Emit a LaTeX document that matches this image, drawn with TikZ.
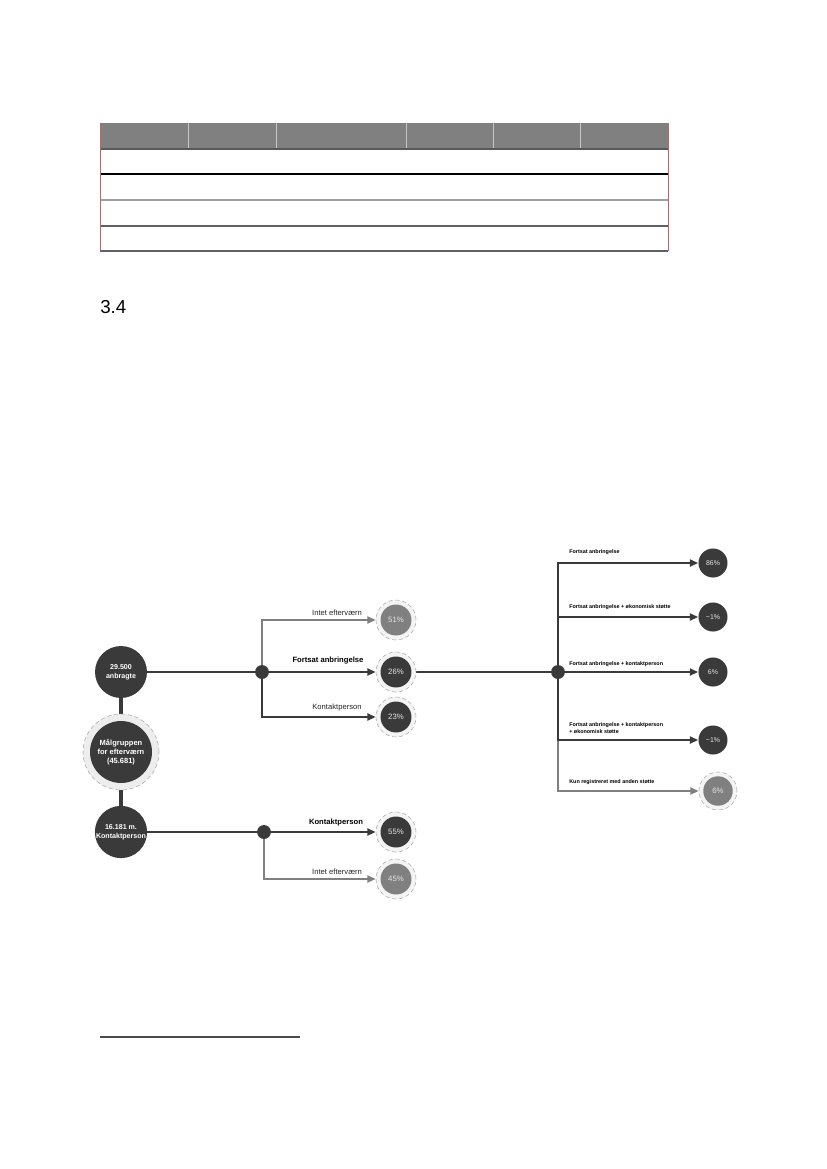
\documentclass[tikz,border=0pt]{standalone}
\usepackage{fontspec}
\setmainfont{Liberation Sans}
\usetikzlibrary{arrows.meta,backgrounds}
\definecolor{dk}{HTML}{3A3A3A}
\definecolor{gr}{HTML}{808080}
\definecolor{ringfill}{HTML}{F4F4F4}
\definecolor{bigring}{HTML}{EDEDED}
\definecolor{ringline}{HTML}{ABABAB}
\definecolor{brd}{HTML}{A07272}
\definecolor{pcttext}{HTML}{E6E6E6}
\begin{document}
\begin{tikzpicture}[x=0.7198pt,y=-0.7198pt,
  big/.style={circle, fill=dk, minimum size=37.4pt, inner sep=0pt, text=white,
    font=\fontsize{5.1}{6.6}\selectfont\bfseries, align=center},
  ringnode/.style={circle, draw=ringline, densely dashed, line width=0.4pt, fill=ringfill,
    minimum size=28.8pt, inner sep=0pt},
  pct/.style={circle, minimum size=22.3pt, inner sep=0pt, text=pcttext,
    font=\fontsize{5.6}{6}\selectfont},
  pctdk/.style={pct, fill=dk},
  pctgr/.style={pct, fill=gr},
  rc/.style={circle, fill=dk, minimum size=20.9pt, inner sep=0pt, text=pcttext,
    font=\fontsize{5}{5.5}\selectfont},
  dot/.style={circle, fill=dk, minimum size=10pt, inner sep=0pt},
  dline/.style={draw=dk, line width=2pt},
  thinline/.style={draw=dk, line width=1.5pt},
  gline/.style={draw=gr, line width=1.6pt},
  arr/.style={-{Triangle[length=6pt,width=5pt]}},
  lbl/.style={font=\fontsize{5.5}{6.5}\selectfont, text=black!85, inner sep=0pt},
  rlbl/.style={font=\fontsize{3.9}{4.8}\selectfont\bfseries, anchor=west, align=left, inner sep=0pt}
]
\useasboundingbox (0,0) rectangle (827,1169);

% ---------- table ----------
\fill[gr] (100,123) rectangle (668,149);
\foreach \xx in {188,276,406,493,580}
  \draw[white!55!gray, line width=0.5pt] (\xx,123) -- (\xx,149);
\draw[line width=0.8pt, black!65] (100,149) -- (668,149);
\draw[line width=1pt, black] (100,174) -- (668,174);
\draw[line width=1.4pt, black!38] (100,200) -- (668,200);
\draw[line width=1pt, black!62] (100,226) -- (668,226);
\draw[line width=1pt, black!62] (100,251) -- (668,251);
\draw[brd, line width=0.6pt] (100,123) -- (100,251) (668,123) -- (668,251);

% ---------- heading ----------
\node[anchor=base west, font=\fontsize{13.5}{15}\selectfont, inner sep=0pt] (head) at (100,313) {3.4};

% ---------- diagram nodes ----------
\node[big] (n29) at (121,672) {29.500\\anbragte};
\node[circle, draw=ringline, densely dashed, line width=0.4pt, fill=bigring,
      minimum size=54.7pt, inner sep=0pt] (rm) at (121,752) {};
\node[big, minimum size=44.6pt, font=\fontsize{5.4}{6.6}\selectfont\bfseries] (nm) at (121,752)
  {Målgruppen\\for efterværn\\(45.681)};
\node[big] (n16) at (121,832) {16.181 m.\\Kontaktperson};

\node[dot] (j1) at (262,672) {};
\node[dot] (j2) at (264,832) {};
\node[dot] (j3) at (558,672) {};

\node[ringnode] (r51) at (396,620) {};
\node[pctgr] (p51) at (396,620) {51\%};
\node[ringnode] (r26) at (396,672) {};
\node[pctdk] (p26) at (396,672) {26\%};
\node[ringnode] (r23) at (396,717) {};
\node[pctdk] (p23) at (396,717) {23\%};
\node[ringnode] (r55) at (396,832) {};
\node[pctdk] (p55) at (396,832) {55\%};
\node[ringnode] (r45) at (396,879) {};
\node[pctgr] (p45) at (396,879) {45\%};

\node[rc] (c86) at (713,563) {86\%};
\node[rc] (c1a) at (713,617) {\textasciitilde1\%};
\node[rc] (c6a) at (713,672) {6\%};
\node[rc] (c1b) at (713,740) {\textasciitilde1\%};
\node[ringnode, minimum size=27.4pt] (r6b) at (718,791) {};
\node[pctgr, minimum size=21.2pt] (p6b) at (718,791) {6\%};

% ---------- labels ----------
\node[lbl] (l1) at (337,613) {Intet efterværn};
\node[lbl, font=\fontsize{5.5}{6.5}\selectfont\bfseries, text=black] (l2) at (328,661) {Fortsat anbringelse};
\node[lbl] (l3) at (337,708) {Kontaktperson};
\node[lbl, font=\fontsize{5.5}{6.5}\selectfont\bfseries, text=black] (l4) at (336,823) {Kontaktperson};
\node[lbl] (l5) at (337,872) {Intet efterværn};

\node[rlbl] (q1) at (569,552) {Fortsat anbringelse};
\node[rlbl] (q2) at (569,607) {Fortsat anbringelse + økonomisk støtte};
\node[rlbl] (q3) at (569,664) {Fortsat anbringelse + kontaktperson};
\node[rlbl] (q4) at (569,728) {Fortsat anbringelse + kontaktperson\\+ økonomisk støtte};
\node[rlbl] (q5) at (569,782) {Kun registreret med anden støtte};

% ---------- connectors ----------
\begin{scope}[on background layer]
  \draw[draw=dk, line width=3pt] (n29) -- (rm);
  \draw[draw=dk, line width=3pt] (rm) -- (n16);
  \draw[dline] (n29) -- (j1);
  \draw[dline] (n16) -- (j2);
  \draw[gline, arr] (j1.center) |- (r51.west);
  \draw[dline, arr] (j1.center) -- (r26.west);
  \draw[dline, arr] (j1.center) |- (r23.west);
  \draw[dline, arr] (j2.center) -- (r55.west);
  \draw[gline, arr] (j2.center) |- (r45.west);
  \draw[dline] (r26) -- (j3);
  \draw[gline, arr] (j3.center) |- (r6b.west);
  \draw[thinline, arr] (j3.center) |- (c86.west);
  \draw[thinline, arr] (j3.center) |- (c1a.west);
  \draw[thinline, arr] (j3.center) -- (c6a.west);
  \draw[thinline, arr] (j3.center) |- (c1b.west);
\end{scope}

% ---------- footnote rule ----------
\draw[line width=0.8pt, black!70] (100,1037) -- (300,1037);
\end{tikzpicture}
\end{document}
